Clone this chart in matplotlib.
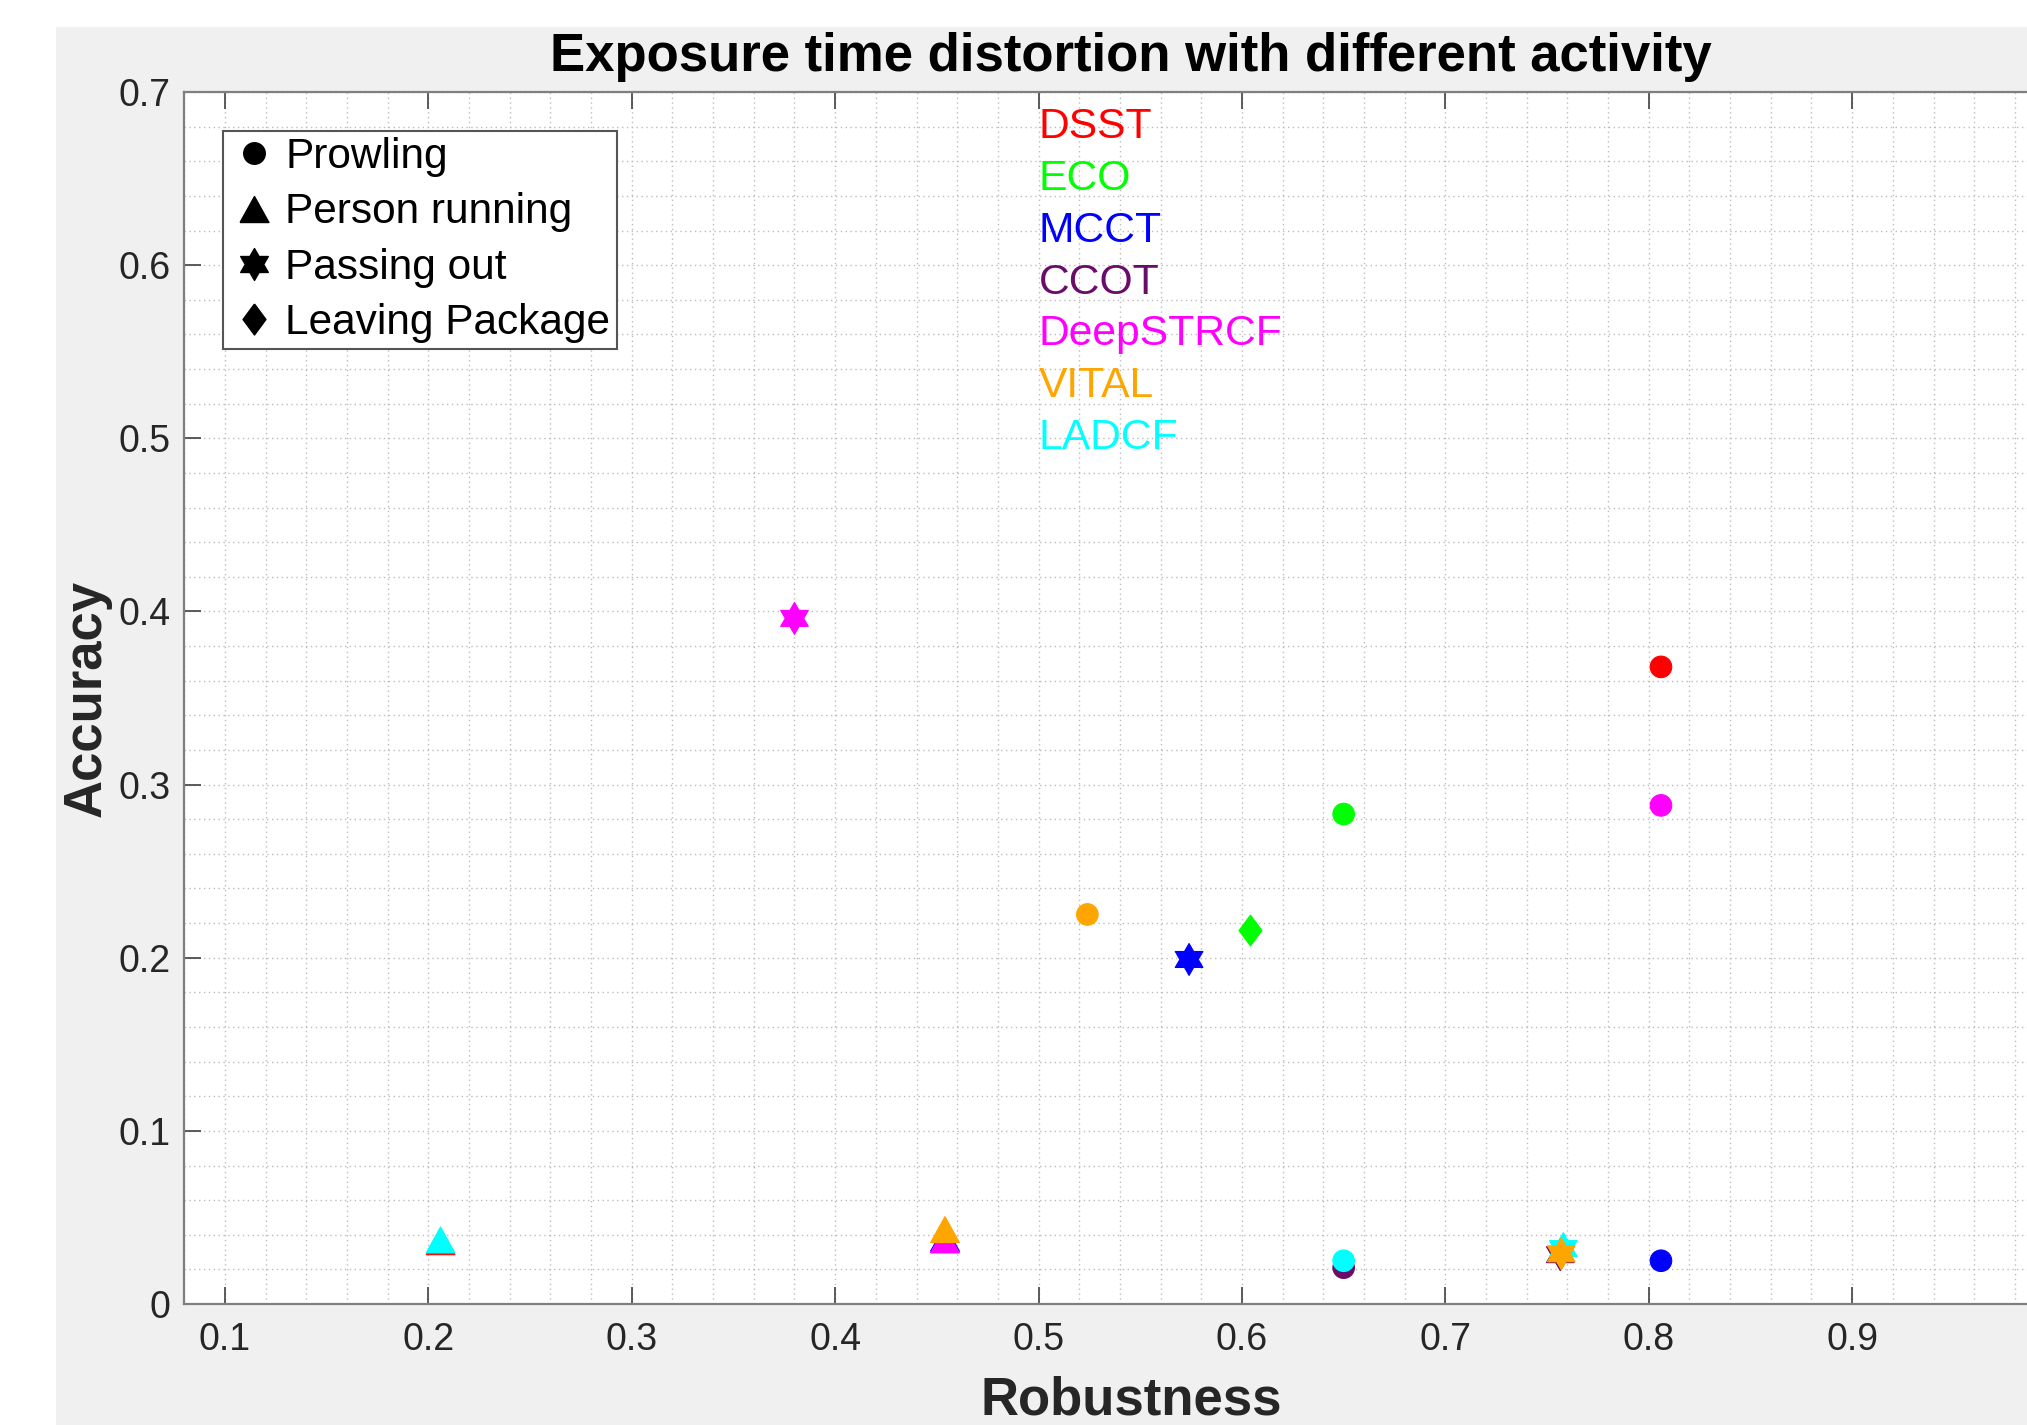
#!/usr/bin/env python3
"""
Exposure time distortion with different activity - accuracy vs robustness
"""

import matplotlib
matplotlib.use("Agg")
import matplotlib.pyplot as plt
from matplotlib.lines import Line2D
from matplotlib.path import Path
from matplotlib.patches import Rectangle

plt.rcParams['font.family'] = ['Liberation Sans', 'DejaVu Sans']

# Trackers and their colours
trackers = ['DSST', 'ECO', 'MCCT', 'CCOT', 'DeepSTRCF', 'VITAL', 'LADCF']
tracker_colors = ['#ff0000', '#00ff00', '#0000ff', '#6a0d6a', '#ff00ff', '#ffa500', '#00ffff']
label_y = [0.68, 0.65, 0.62, 0.59, 0.56, 0.53, 0.50]

# Prowling (circles)
prowling_trk = ['DSST', 'ECO', 'MCCT', 'CCOT', 'DeepSTRCF', 'VITAL', 'LADCF']
prowling_x = [0.806, 0.650, 0.806, 0.650, 0.806, 0.524, 0.650]
prowling_y = [0.368, 0.283, 0.025, 0.021, 0.288, 0.225, 0.025]

# Person running (triangles)
running_trk = ['DSST', 'MCCT', 'DeepSTRCF', 'VITAL', 'LADCF']
running_x = [0.206, 0.454, 0.454, 0.454, 0.206]
running_y = [0.036, 0.038, 0.037, 0.043, 0.037]

# Passing out (hexagrams)
passing_trk = ['MCCT', 'CCOT', 'DeepSTRCF', 'LADCF', 'VITAL']
passing_x = [0.574, 0.7565, 0.380, 0.758, 0.757]
passing_y = [0.199, 0.0285, 0.396, 0.032, 0.029]

# Leaving package (diamonds)
leaving_trk = ['ECO']
leaving_x = [0.604]
leaving_y = [0.216]

activities = ['Prowling', 'Person running', 'Passing out', 'Leaving Package']

# MATLAB-like marker shapes
tri_marker = [(-1, -0.9), (1, -0.9), (0, 0.9), (-1, -0.9)]
hex_marker = Path.unit_regular_star(6, 0.577)
dia_marker = [(0, 1), (0.74, 0), (0, -1), (-0.74, 0), (0, 1)]
markers = ['o', tri_marker, hex_marker, dia_marker]
sizes = [15.5, 20.8, 23.0, 22.3]

color_of = dict(zip(trackers, tracker_colors))

fig = plt.figure(figsize=(20.27, 14.25), dpi=100, facecolor='white')
fig.patches.append(Rectangle((0.0276, 0), 1, 0.981, transform=fig.transFigure,
                             facecolor='#f0f0f0', edgecolor='none', zorder=-5))

ax = fig.add_axes([0.0909, 0.0849, 0.9232, 0.8505])
ax.set_facecolor('white')

groups = [(prowling_trk, prowling_x, prowling_y),
          (running_trk, running_x, running_y),
          (passing_trk, passing_x, passing_y),
          (leaving_trk, leaving_x, leaving_y)]
for (trk, xs, ys), mk, ms in zip(groups, markers, sizes):
    cols = [color_of[t] for t in trk]
    ax.scatter(xs, ys, s=ms ** 2, c=cols, marker=mk, edgecolors=cols,
               linewidths=0.8, zorder=3)

# Tracker names as coloured text
for name, col, yy in zip(trackers, tracker_colors, label_y):
    ax.text(0.5, yy, name, color=col, fontsize=30.7, ha='left', va='center', zorder=4)

ax.set_xlim(0.08, 1.0)
ax.set_ylim(0, 0.7)
ax.set_xticks([0.1, 0.2, 0.3, 0.4, 0.5, 0.6, 0.7, 0.8, 0.9])
ax.set_xticklabels(['0.1', '0.2', '0.3', '0.4', '0.5', '0.6', '0.7', '0.8', '0.9'])
ax.set_yticks([0, 0.1, 0.2, 0.3, 0.4, 0.5, 0.6, 0.7])
ax.set_yticklabels(['0', '0.1', '0.2', '0.3', '0.4', '0.5', '0.6', '0.7'])
ax.set_xticks([i * 0.02 + 0.08 for i in range(47)], minor=True)
ax.set_yticks([i * 0.02 for i in range(36)], minor=True)

ax.tick_params(which='major', direction='in', length=12, width=1.2, colors='#404040',
               labelcolor='#262626', labelsize=27, top=True, right=True)
ax.tick_params(axis='x', which='major', pad=13)
ax.tick_params(axis='y', which='major', pad=10)
ax.tick_params(which='minor', length=0, top=True, right=True)

ax.grid(True, which='both', linestyle=(0, (1, 2.5)), color='#bcbcbc', linewidth=1.0)
ax.set_axisbelow(True)
for sp in ax.spines.values():
    sp.set_color('#7f7f7f')
    sp.set_linewidth(1.6)

ax.set_title('Exposure time distortion with different activity', fontsize=38,
             fontweight='bold', color='black', x=0.506, pad=15)
ax.set_xlabel('Robustness', fontsize=38, fontweight='bold', color='#262626')
ax.xaxis.set_label_coords(0.506, -0.059)
ax.set_ylabel('Accuracy', fontsize=38, fontweight='bold', color='#262626')
ax.yaxis.set_label_coords(-0.039, 0.5)

handles = [Line2D([], [], linestyle='none', marker=mk, markersize=ms, color='black')
           for mk, ms in zip(markers, sizes)]
leg = ax.legend(handles, activities, loc='upper left', bbox_to_anchor=(0.0208, 0.968),
                borderaxespad=0, fontsize=30.5, fancybox=False, framealpha=1,
                edgecolor='#555555', handlelength=1.165, handletextpad=0.15,
                labelspacing=0.36, borderpad=0.15, numpoints=1)
leg.get_frame().set_linewidth(1.5)

fig.savefig('out.png', dpi=100)
